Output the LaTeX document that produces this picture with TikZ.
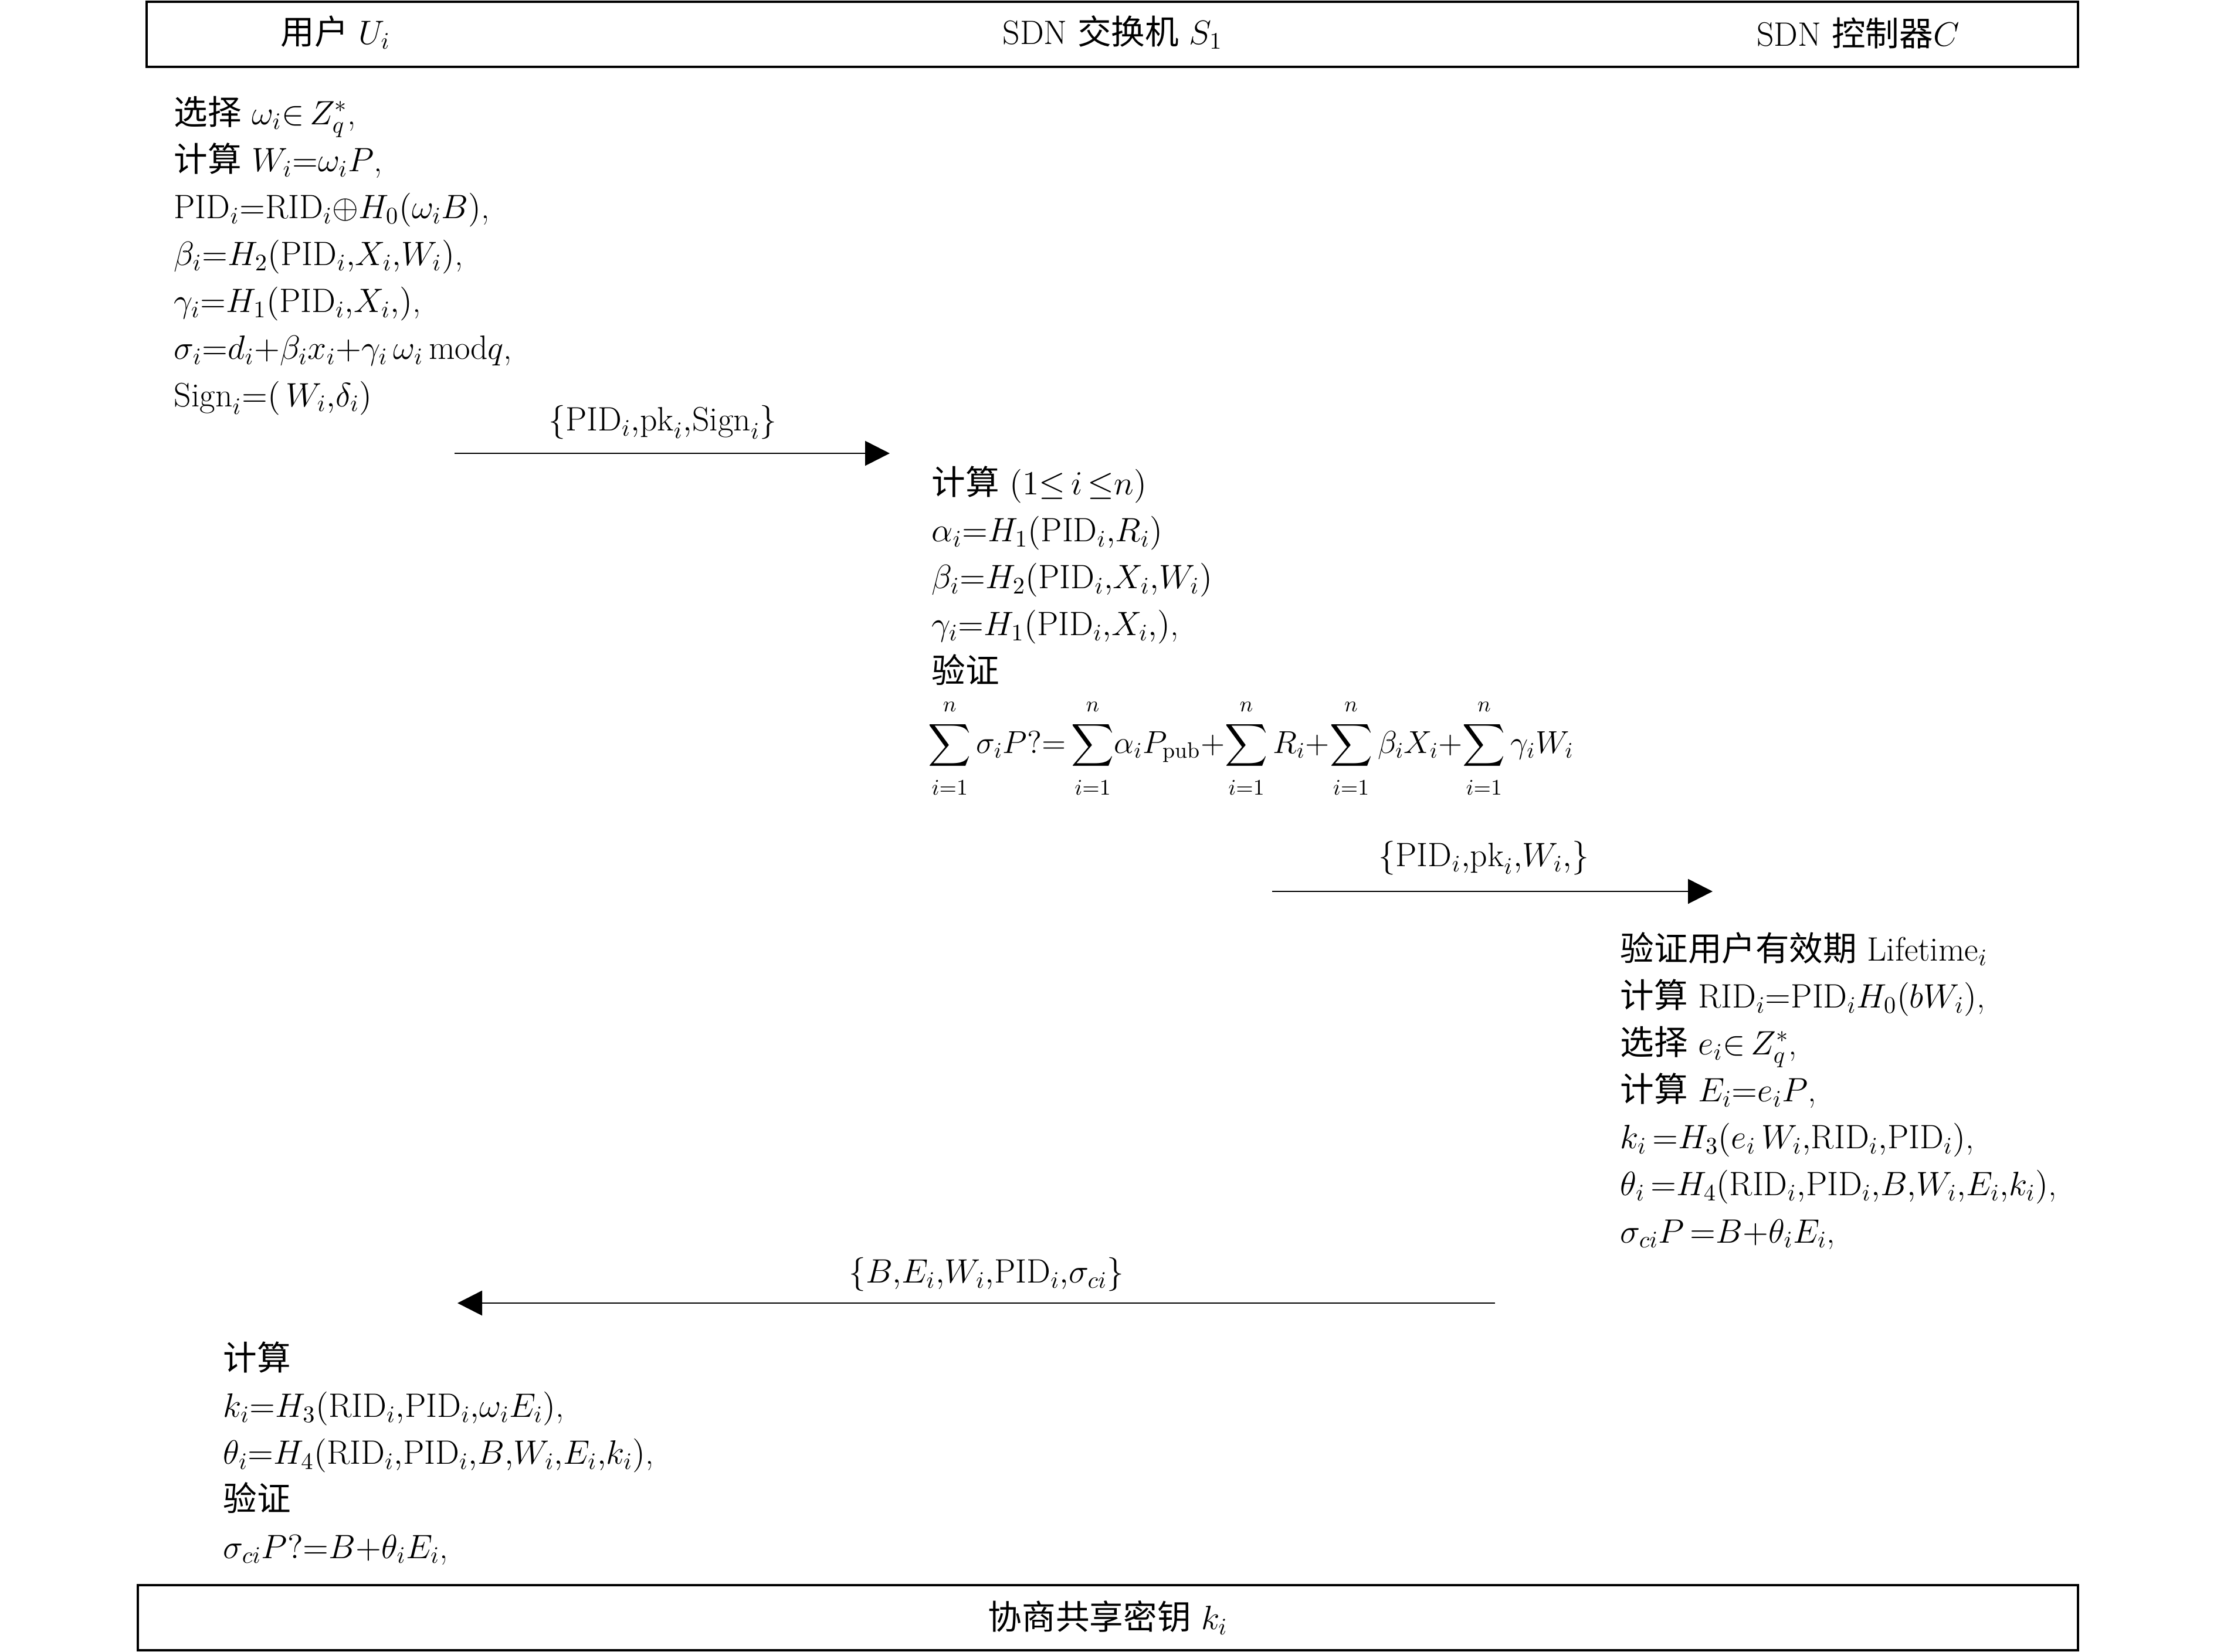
\RequirePackage{fix-cm}
\documentclass[tikz,border=0pt]{standalone}
\usepackage{amsmath}
\usepackage{fontspec}
\newfontfamily\cjk{Noto Sans CJK SC}
\usetikzlibrary{arrows.meta}
\mathcode`\,="013B
\newcommand\sumn{{\sum\limits_{\rule{0pt}{10.2pt}i=1}^{\rule[-3pt]{0pt}{3pt}n}}}
\begin{document}
\begin{tikzpicture}[
  every node/.style={font=\fontsize{16.4}{22.8}\selectfont, inner sep=0pt},
  frame/.style={draw, line width=1.15pt, rectangle},
  block/.style={anchor=base west, align=left},
  msg/.style={anchor=center},
  flow/.style={line width=0.8pt, -{Triangle[length=4.2mm, width=4.2mm]}}
]
\useasboundingbox (0,0) rectangle (37.8,-28.16);

% header bar
\node[frame, minimum width=32.93cm, minimum height=1.11cm] (header) at (18.965,-0.585) {};
\node (tU) at (5.72,-0.55) {{\cjk 用户} $U_i$};
\node (tS) at (18.97,-0.55) {SDN {\cjk 交换机} $S_1$};
\node (tC) at (31.68,-0.57) {SDN {\cjk 控制器}$C$};

% user block (anchor = baseline of last line)
\node[block] (ublk) at (2.96,-6.93) {%
{\cjk 选择} $\omega_i{\in}\,Z_q^{*}$,\\
{\cjk 计算}\ $W_i{=}\omega_iP$,\\
$\mathrm{PID}_i{=}\mathrm{RID}_i{\oplus}H_0(\omega_iB)$,\\
$\beta_i{=}H_2(\mathrm{PID}_i,X_i,W_i)$,\\
$\gamma_i{=}H_1(\mathrm{PID}_i,X_i,)$,\\
$\sigma_i{=}d_i{+}\beta_ix_i{+}\gamma_i\,\omega_i\,\mathrm{mod}q$,\\
$\mathrm{Sign}_i{=}(\,W_i,\delta_i)$};

% message 1
\coordinate (m1s) at (7.75,-7.73);
\coordinate (m1e) at (15.17,-7.73);
\draw[flow] (m1s) -- (m1e);
\node[msg] (l1) at (11.30,-7.20) {$\{\mathrm{PID}_i,\mathrm{pk}_i,\mathrm{Sign}_i\}$};

% switch block
\node[block] (sblk) at (15.88,-11.64) {%
{\cjk 计算} $(1{\le}\,i\,{\le}n)$\\
$\alpha_i{=}H_1(\mathrm{PID}_i,R_i)$\\
$\beta_i{=}H_2(\mathrm{PID}_i,X_i,W_i)$\\
$\gamma_i{=}H_1(\mathrm{PID}_i,X_i,)$,\\
{\cjk 验证}};
\node[anchor=base west, font=\fontsize{15.4}{20}\selectfont] (seq) at (15.82,-12.84) {$\displaystyle\sumn\,\sigma_iP?{=}\,\sumn\alpha_iP_{\mathrm{pub}}{+}\sumn\,R_i{+}\sumn\,\beta_iX_i{+}\sumn\,\gamma_iW_i$};

% message 2
\coordinate (m2s) at (21.69,-15.20);
\coordinate (m2e) at (29.20,-15.20);
\draw[flow] (m2s) -- (m2e);
\node[msg] (l2) at (25.30,-14.63) {$\{\mathrm{PID}_i,\mathrm{pk}_i,W_i,\}$};

% controller block
\node[block] (cblk) at (27.62,-21.19) {%
{\cjk 验证用户有效期} Lifetime$_i$\\
{\cjk 计算} $\mathrm{RID}_i{=}\mathrm{PID}_iH_0(bW_i)$,\\
{\cjk 选择}\ $e_i{\in}\,Z_q^{*}$,\\
{\cjk 计算}\ $E_i{=}e_iP$,\\
$k_i\,{=}H_3(e_i\,W_i,\mathrm{RID}_i,\mathrm{PID}_i)$,\\
$\theta_i\,{=}H_4(\mathrm{RID}_i,\mathrm{PID}_i,B,W_i,E_i,k_i)$,\\
$\sigma_{ci}P\,{=}B{+}\theta_iE_i$,};

% message 3
\coordinate (m3s) at (25.49,-22.22);
\coordinate (m3e) at (7.80,-22.22);
\draw[flow] (m3s) -- (m3e);
\node[msg] (l3) at (16.82,-21.73) {$\{B,E_i,W_i,\mathrm{PID}_i,\sigma_{ci}\}$};

% user final block
\node[block] (ublk2) at (3.80,-26.57) {%
{\cjk 计算}\\
$k_i{=}H_3(\mathrm{RID}_i,\mathrm{PID}_i,\omega_iE_i)$,\\
$\theta_i{=}H_4(\mathrm{RID}_i,\mathrm{PID}_i,B,W_i,E_i,k_i)$,\\
{\cjk 验证}\\
$\sigma_{ci}P?{=}B{+}\theta_iE_i$,};

% key bar
\node[frame, minimum width=33.08cm, minimum height=1.11cm] (keybar) at (18.89,-27.585) {{\cjk 协商共享密钥} $k_i$};
\end{tikzpicture}
\end{document}
